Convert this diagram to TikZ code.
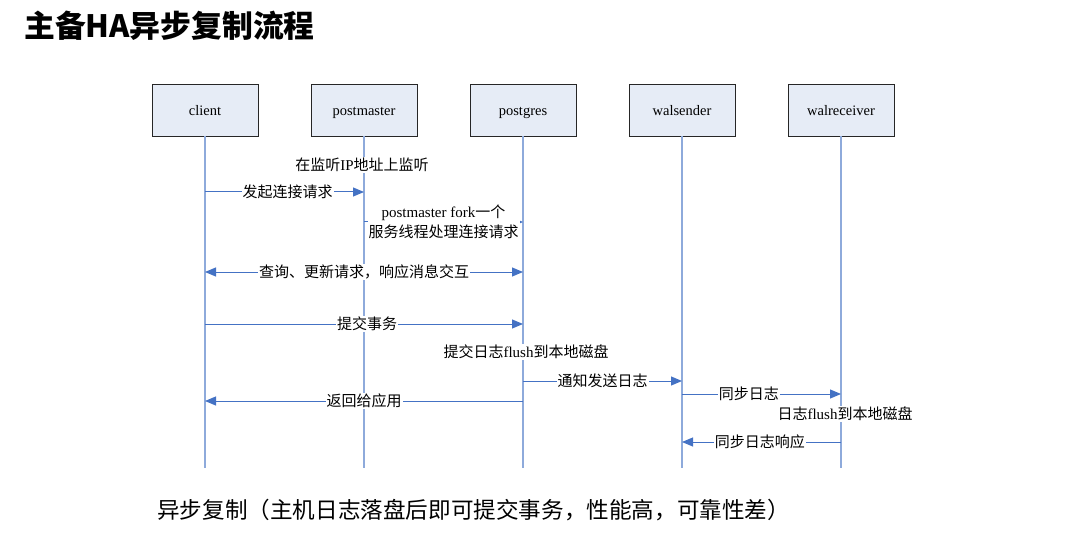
\documentclass[tikz,border=0pt]{standalone}
\usepackage{fontspec}
\setmainfont{Liberation Serif}
\newfontfamily\cjk{Noto Sans CJK SC}
\usetikzlibrary{arrows.meta}
\definecolor{boxfill}{HTML}{E6ECF6}
\definecolor{lifec}{HTML}{8EAADB}
\definecolor{msgc}{HTML}{4472C4}
\tikzset{
  actor/.style={draw=black!85, line width=0.9pt, fill=boxfill, minimum width=106pt, minimum height=52pt, inner sep=0pt, text height=12pt, text depth=0pt, font=\fontsize{14.5}{16}\selectfont},
  life/.style={draw=lifec, line width=1.1pt},
  msg/.style={draw=msgc, line width=1pt, -{Triangle[length=11pt,width=9pt]}},
  dmsg/.style={draw=msgc, line width=1pt, {Triangle[length=11pt,width=9pt]}-{Triangle[length=11pt,width=9pt]}},
  lbl/.style={fill=white, inner sep=1pt, font=\fontsize{15}{20}\selectfont, text=black},
  note/.style={fill=white, inner sep=1pt, font=\fontsize{15}{20}\selectfont, text=black}
}
\begin{document}
\begin{tikzpicture}[x=1pt,y=-1pt]
\useasboundingbox (0,0) rectangle (1070,553);
% title
\node[anchor=west, inner sep=0pt, font={\cjk\bfseries\fontsize{30.8}{34}\selectfont}] (title) at (24,26) {主备HA异步复制流程};
% actors
\node[actor] (client) at (205,110) {client};
\node[actor] (pm) at (364,110) {postmaster};
\node[actor] (pg) at (523,110) {postgres};
\node[actor] (ws) at (682,110) {walsender};
\node[actor] (wr) at (841,110) {walreceiver};
% lifeline ends
\coordinate (clientE) at (205,468);
\coordinate (pmE) at (364,468);
\coordinate (pgE) at (523,468);
\coordinate (wsE) at (682,468);
\coordinate (wrE) at (841,468);
\draw[life] (client.south) -- (clientE);
\draw[life] (pm.south) -- (pmE);
\draw[life] (pg.south) -- (pgE);
\draw[life] (ws.south) -- (wsE);
\draw[life] (wr.south) -- (wrE);
% message points
\coordinate (c1) at (205,192); \coordinate (p1) at (364,192);
\coordinate (p2) at (364,222); \coordinate (g2) at (523,222);
\coordinate (c3) at (205,272); \coordinate (g3) at (523,272);
\coordinate (c4) at (205,324); \coordinate (g4) at (523,324);
\coordinate (g5) at (523,381); \coordinate (s5) at (682,381);
\coordinate (g6) at (523,401); \coordinate (c6) at (205,401);
\coordinate (s7) at (682,394); \coordinate (r7) at (841,394);
\coordinate (r8) at (841,442); \coordinate (s8) at (682,442);
% notes
\node[note] (n1) at (362,165) {{\cjk 在监听}IP{\cjk 地址上监听}};
\node[note] (n2) at (526,352) {{\cjk 提交日志}flush{\cjk 到本地磁盘}};
\node[note] (n3) at (845,414) {{\cjk 日志}flush{\cjk 到本地磁盘}};
% messages
\draw[msg] (c1) -- node[lbl, pos=0.52] {\cjk 发起连接请求} (p1);
\draw[msg] (p2) -- node[lbl, align=center, inner sep=1pt] {postmaster fork{\cjk 一个}\\{\cjk 服务线程处理连接请求}} (g2);
\draw[dmsg] (c3) -- node[lbl] {\cjk 查询、更新请求，响应消息交互} (g3);
\draw[msg] (c4) -- node[lbl, pos=0.51] {\cjk 提交事务} (g4);
\draw[msg] (g5) -- node[lbl] {\cjk 通知发送日志} (s5);
\draw[msg] (g6) -- node[lbl] {\cjk 返回给应用} (c6);
\draw[msg] (s7) -- node[lbl, pos=0.42] {\cjk 同步日志} (r7);
\draw[msg] (r8) -- node[lbl, pos=0.51] {\cjk 同步日志响应} (s8);
% footer
\node[anchor=west, inner sep=0pt, font={\cjk\fontsize{22.6}{26}\selectfont}] (foot) at (157,510) {异步复制（主机日志落盘后即可提交事务，性能高，可靠性差）};
\end{tikzpicture}
\end{document}
